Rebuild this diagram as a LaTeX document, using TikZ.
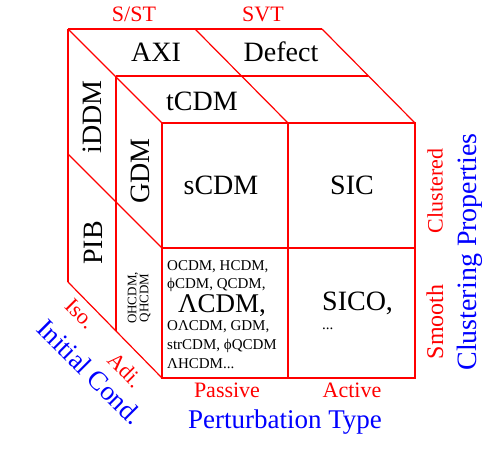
\documentclass[tikz,border=0pt]{standalone}
\usepackage{fontspec}
\setmainfont{Liberation Serif}
\begin{document}
\begin{tikzpicture}[x=1pt,y=-1pt,
  edge/.style={red, line width=1.2pt},
  big/.style={inner sep=0pt, font=\fontsize{28}{30}\selectfont},
  lab/.style={inner sep=0pt, red, font=\fontsize{22}{24}\selectfont},
  axis/.style={inner sep=0pt, blue, font=\fontsize{27}{29}\selectfont},
  small/.style={inner sep=0pt, font=\fontsize{15}{18.6}\selectfont}]
\useasboundingbox (0,0) rectangle (485,462);
% cube corners
\coordinate (FTL) at (162,123); \coordinate (FTM) at (288,123); \coordinate (FTR) at (415,123);
\coordinate (FML) at (162,248); \coordinate (FMR) at (415,248);
\coordinate (FBL) at (162,378); \coordinate (FBM) at (288,378); \coordinate (FBR) at (415,378);
\coordinate (MTL) at (116,76); \coordinate (MTR) at (368,76); \coordinate (MBL) at (116,331);
\coordinate (BTL) at (68,29); \coordinate (BTM) at (195,29); \coordinate (BTR) at (322,29);
\coordinate (BML) at (68,154); \coordinate (BBL) at (68,282);
% front face
\draw[edge] (FTL) rectangle (FBR);
\draw[edge] (FTM) -- (FBM);
\draw[edge] (FML) -- (FMR);
% top face
\draw[edge] (BTL) -- (BTR);
\draw[edge] (MTL) -- (MTR);
\draw[edge] (BTL) -- (FTL);
\draw[edge] (BTM) -- (FTM);
\draw[edge] (BTR) -- (FTR);
% left face
\draw[edge] (BTL) -- (BBL);
\draw[edge] (MTL) -- (MBL);
\draw[edge] (BML) -- (FML);
\draw[edge] (BBL) -- (FBL);
% top labels
\node[lab] (sst) at (134,14) {S/ST};
\node[lab] (svt) at (263,14) {SVT};
\node[big] (axi) at (156,52) {AXI};
\node[big] (defect) at (281,52) {Defect};
\node[big] (tcdm) at (202,101) {tCDM};
% front labels
\node[big] (scdm) at (221,185) {sCDM};
\node[big] (sic) at (352,185) {SIC};
\node[small, anchor=north west] (lcdm) at (167,257) {\begin{tabular}{@{}l@{}}OCDM, HCDM,\\ ϕCDM, QCDM,\\ \multicolumn{1}{@{}c@{}}{\fontsize{27}{27}\selectfont ΛCDM,}\\ OΛCDM, GDM,\\ strCDM, ϕQCDM\\ ΛHCDM...\end{tabular}};
\node[big, anchor=west] (sico) at (322,303) {SICO,};
\node[small, anchor=west] (dots) at (322,329) {...};
% left labels
\node[big, rotate=90] (iddm) at (92,117) {iDDM};
\node[big, rotate=90] (gdm) at (140,171) {GDM};
\node[big, rotate=90] (pib) at (93,243) {PIB};
\node[inner sep=0pt, rotate=90, align=center, font=\fontsize{13}{12}\selectfont] (ohcdm) at (139,298) {OHCDM,\\QHCDM};
% axes labels
\node[lab] (passive) at (227,390) {Passive};
\node[lab] (active) at (352,390) {Active};
\node[axis] (ptype) at (285,422) {Perturbation Type};
\node[lab, rotate=90] (clustered) at (435,191) {Clustered};
\node[lab, rotate=90, font=\fontsize{24}{26}\selectfont] (smooth) at (435,322) {Smooth};
\node[axis, rotate=90, font=\fontsize{28}{30}\selectfont] (cprop) at (470,252) {Clustering Properties};
\node[lab, rotate=-45] (iso) at (80,314) {Iso.};
\node[lab, rotate=-45] (adi) at (125,370) {Adi.};
\node[axis, rotate=-45] (icond) at (90,372) {Initial Cond.};
\end{tikzpicture}
\end{document}
